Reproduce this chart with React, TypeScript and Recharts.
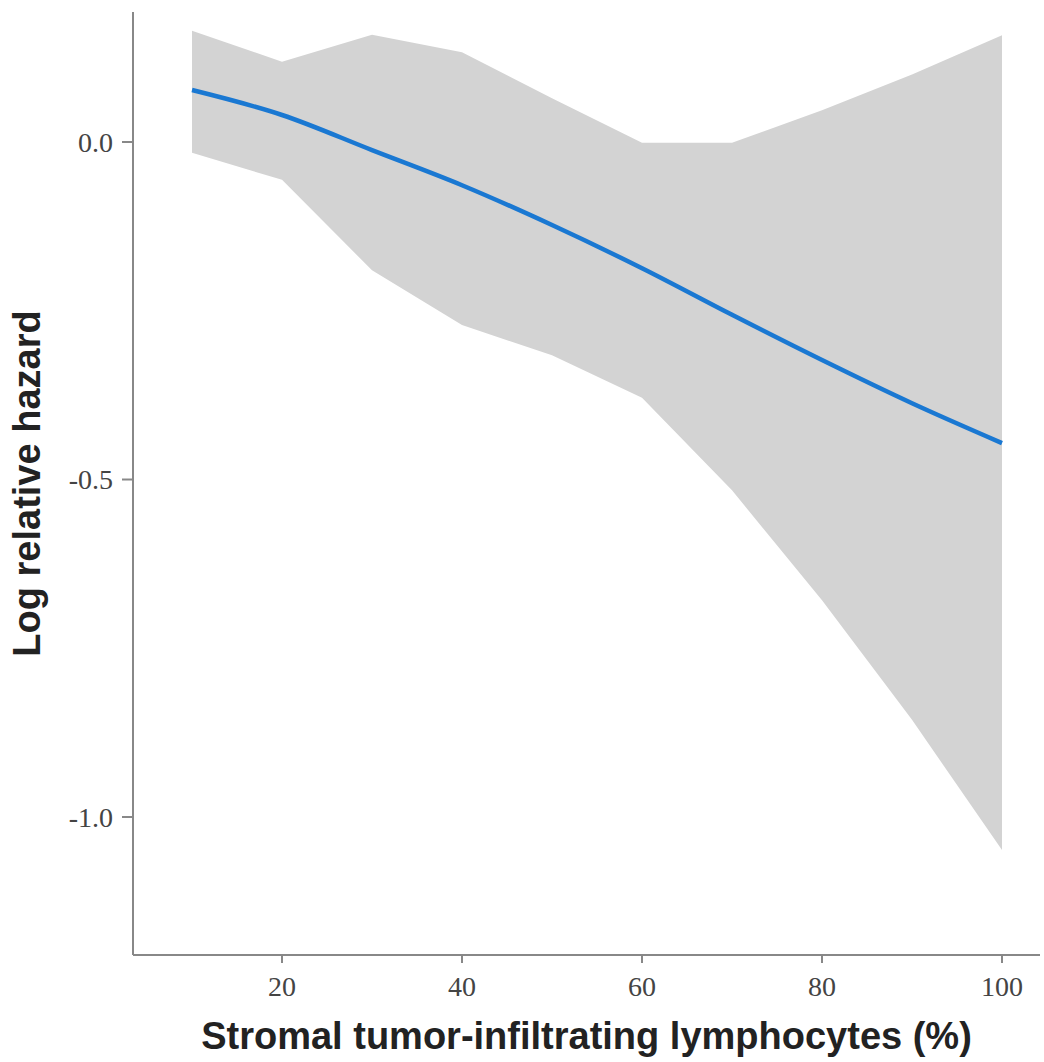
import { ComposedChart, XAxis, YAxis, Area, Line } from 'recharts';

const tilPercent = [10, 20, 30, 40, 50, 60, 70, 80, 90, 100];
const logHazard = [0.077, 0.04, -0.012, -0.064, -0.123, -0.187, -0.256, -0.323, -0.387, -0.446];
const upperCI = [0.165, 0.119, 0.159, 0.133, 0.065, -0.001, -0.001, 0.047, 0.1, 0.158];
const lowerCI = [-0.016, -0.056, -0.19, -0.271, -0.316, -0.379, -0.516, -0.679, -0.856, -1.049];

const xTicks = [20, 40, 60, 80, 100];
const yTicks = [0, -0.5, -1.0];

const data = tilPercent.map((x, i) => ({
  x,
  fit: logHazard[i],
  band: [lowerCI[i], upperCI[i]],
}));

const tickStyle = { fontFamily: '"Liberation Serif", serif', fontSize: 28, fill: '#444' };
const titleStyle = { fontFamily: '"Liberation Sans", Arial, sans-serif', fontWeight: 700, fill: '#222' };

export default function App() {
  return (
    <div style={{ position: 'absolute', left: 0, top: 0, background: '#fff' }}>
      <ComposedChart width={1044} height={1062} data={data} margin={{ top: 12, right: 4, bottom: 0, left: 0 }}>
        <XAxis
          dataKey="x"
          type="number"
          domain={[3.444, 104.222]}
          ticks={xTicks}
          height={107}
          tick={tickStyle}
          tickSize={8}
          tickMargin={13}
          stroke="#888"
          strokeWidth={2}
          label={{
            value: 'Stromal tumor-infiltrating lymphocytes (%)',
            position: 'center',
            dy: 27,
            style: { ...titleStyle, fontSize: 38 },
          }}
        />
        <YAxis
          type="number"
          domain={[-1.2044, 0.1926]}
          ticks={yTicks}
          width={133}
          allowDataOverflow
          tick={tickStyle}
          tickSize={11}
          tickMargin={9}
          tickFormatter={(v: number) => v.toFixed(1)}
          stroke="#888"
          strokeWidth={2}
          label={{
            value: 'Log relative hazard',
            position: 'center',
            angle: -90,
            dx: -40,
            style: { ...titleStyle, fontSize: 38 },
          }}
        />
        <Area dataKey="band" type="linear" fill="#d3d3d3" fillOpacity={1} stroke="none" isAnimationActive={false} />
        <Line dataKey="fit" type="monotone" stroke="#1a78d2" strokeWidth={4.5} dot={false} isAnimationActive={false} />
      </ComposedChart>
    </div>
  );
}
